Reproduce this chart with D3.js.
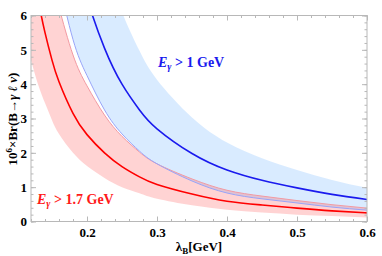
<!DOCTYPE html>
<html>
<head>
<meta charset="utf-8">
<script src="https://cdn.jsdelivr.net/npm/d3@7"></script>
<style>
  body { margin: 0; background: #fff; }
  text { font-family: "Liberation Serif", "Times New Roman", serif; font-weight: bold; }
</style>
</head>
<body>
<svg id="chart" width="382" height="256"></svg>
<script>
// lambda_B grid (GeV) and curves, in units of 1e-6
var lambdas   = [0.12, 0.13, 0.14, 0.15, 0.16, 0.18, 0.2, 0.225, 0.25, 0.275, 0.3, 0.35, 0.4, 0.45, 0.5, 0.55, 0.6];
var redMid    = [7.8, 6.5, 5.5, 4.7, 4.07, 3.15, 2.53, 2.0, 1.6, 1.3, 1.08, 0.80, 0.59, 0.48, 0.39, 0.31, 0.25];
var redHigh   = [11.8, 9.9, 8.4, 7.2, 6.25, 4.85, 3.95, 3.1, 2.48, 2.02, 1.68, 1.24, 0.91, 0.74, 0.61, 0.49, 0.39];
var redLow    = [4.7, 4.0, 3.45, 2.95, 2.55, 2.0, 1.62, 1.27, 1.0, 0.82, 0.66, 0.47, 0.34, 0.26, 0.20, 0.16, 0.12];
var blueMid   = [20, 16.8, 14.3, 12.3, 10.7, 8.2, 6.5, 5.05, 4.0, 3.25, 2.7, 1.98, 1.50, 1.20, 0.98, 0.79, 0.64];
var blueHigh  = [30, 25.7, 21.9, 18.8, 16.4, 12.5, 9.9, 7.7, 6.1, 4.97, 4.13, 3.03, 2.3, 1.84, 1.5, 1.21, 0.98];
var blueLow   = [13.5, 11.3, 9.6, 8.1, 7.0, 5.3, 4.25, 3.25, 2.55, 2.05, 1.68, 1.18, 0.83, 0.66, 0.54, 0.42, 0.33];

var xTicks = [0.2, 0.3, 0.4, 0.5, 0.6];
var yTicks = [0, 1, 2, 3, 4, 5, 6];
var xMinor = d3.range(0.12, 0.601, 0.02);
var yMinor = d3.range(0, 6.01, 0.2);

var svg = d3.select('#chart');
var x = d3.scaleLinear().domain([0.12, 0.6]).range([31, 367]);
var y = d3.scaleLinear().domain([0, 6]).range([221.5, 15.5]);

svg.append('clipPath').attr('id', 'plotclip')
  .append('rect')
  .attr('x', x(0.12)).attr('y', y(6))
  .attr('width', x(0.6) - x(0.12)).attr('height', y(0) - y(6));

var plot = svg.append('g').attr('clip-path', 'url(#plotclip)');

function band(lo, hi) {
  return d3.area()
    .x(function (d, i) { return x(lambdas[i]); })
    .y0(function (d, i) { return y(lo[i]); })
    .y1(function (d, i) { return y(hi[i]); })
    .curve(d3.curveNatural)(lambdas);
}
function line(vals) {
  return d3.line()
    .x(function (d, i) { return x(lambdas[i]); })
    .y(function (d, i) { return y(vals[i]); })
    .curve(d3.curveNatural)(lambdas);
}

/* bands */
plot.append('path').attr('d', band(blueLow, blueHigh))
  .attr('fill', 'rgb(20,130,255)').attr('fill-opacity', 0.16);
plot.append('path').attr('d', band(redLow, redHigh))
  .attr('fill', 'rgb(255,20,20)').attr('fill-opacity', 0.19);

/* thin edge lines */
plot.append('path').attr('d', line(redHigh))
  .attr('fill', 'none').attr('stroke', '#f29aa2').attr('stroke-width', 1);
plot.append('path').attr('d', line(blueLow))
  .attr('fill', 'none').attr('stroke', '#98a4f8').attr('stroke-width', 1);

/* central curves */
plot.append('path').attr('d', line(redMid))
  .attr('fill', 'none').attr('stroke', '#ff0000').attr('stroke-width', 1.6);
plot.append('path').attr('d', line(blueMid))
  .attr('fill', 'none').attr('stroke', '#1a1aee').attr('stroke-width', 1.6);

/* frame */
svg.append('rect')
  .attr('x', x(0.12)).attr('y', y(6))
  .attr('width', x(0.6) - x(0.12)).attr('height', y(0) - y(6))
  .attr('fill', 'none').attr('stroke', '#b8b8b8').attr('stroke-width', 1);

function frameAxis(makeAxis, tr, major, minor, labels, pad) {
  var gMinor = svg.append('g').attr('transform', tr)
    .call(makeAxis().tickValues(minor).tickSize(-2.5).tickFormat(''));
  gMinor.select('.domain').remove();
  gMinor.selectAll('line').attr('stroke', '#b8b8b8');
  var gMajor = svg.append('g').attr('transform', tr)
    .call(makeAxis().tickValues(major).tickSize(-5).tickPadding(pad)
      .tickFormat(labels ? labels : ''));
  gMajor.select('.domain').remove();
  gMajor.selectAll('line').attr('stroke', '#b8b8b8');
  gMajor.selectAll('text')
    .attr('font-family', '"Liberation Serif", serif')
    .attr('font-size', 13).attr('fill', '#000');
}

frameAxis(function () { return d3.axisBottom(x); }, 'translate(0,' + y(0) + ')', xTicks, xMinor, d3.format('.1f'), 6);
frameAxis(function () { return d3.axisTop(x); }, 'translate(0,' + y(6) + ')', xTicks, xMinor, null, 3);
frameAxis(function () { return d3.axisLeft(y); }, 'translate(' + x(0.12) + ',0)', yTicks, yMinor, d3.format('d'), 4);
frameAxis(function () { return d3.axisRight(y); }, 'translate(' + x(0.6) + ',0)', yTicks, yMinor, null, 3);

/* axis titles */
var xt = svg.append('text')
  .attr('x', 199).attr('y', 251)
  .attr('text-anchor', 'middle').attr('font-size', 13);
xt.append('tspan').text('λ');
xt.append('tspan').attr('dy', 3).attr('font-size', 9).text('B');
xt.append('tspan').attr('dy', -3).text('[GeV]');

var yt = svg.append('text')
  .attr('transform', 'translate(17,119) rotate(-90)')
  .attr('text-anchor', 'middle').attr('font-size', 13);
yt.append('tspan').text('10');
yt.append('tspan').attr('dy', -5).attr('font-size', 9).text('6');
yt.append('tspan').attr('dy', 5).text('×Br(B→');
yt.append('tspan').attr('font-style', 'italic').text('γ ℓ ν');
yt.append('tspan').text(')');

/* annotations */
function label(xp, yp, colour, rest) {
  var t = svg.append('text').attr('x', xp).attr('y', yp)
    .attr('font-size', 14).attr('fill', colour);
  t.append('tspan').attr('font-style', 'italic').text('E');
  t.append('tspan').attr('font-style', 'italic').attr('font-size', 10).attr('dy', 3).text('γ');
  t.append('tspan').attr('dy', -3).text(rest);
}
label(158, 67, '#1a1aee', ' > 1 GeV');
label(37, 204, '#ff1a1a', ' > 1.7 GeV');
</script>
</body>
</html>
